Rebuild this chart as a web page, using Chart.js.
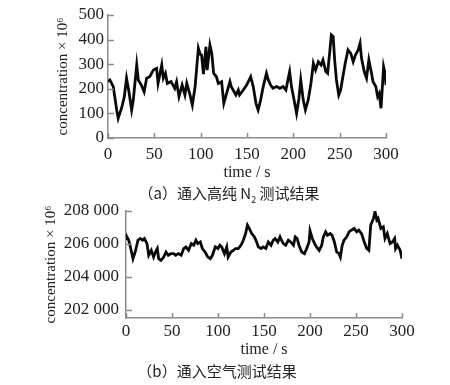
<!DOCTYPE html>
<html>
<head>
<meta charset="utf-8">
<script src="https://cdn.jsdelivr.net/npm/chart.js@4"></script>
<style>
  body { margin: 0; background: #fff; }
  #wrap { position: relative; width: 450px; height: 385px; }
  canvas { position: absolute; left: 0; }
  .cap { position: absolute; left: 0; width: 450px; text-align: center;
         font-family: "Noto Sans CJK SC", sans-serif; font-size: 15px; color: #222; }
</style>
</head>
<body>
<div id="wrap">
  <canvas id="chartA" width="450" height="185" style="top:0"></canvas>
  <div class="cap" style="top:182px; padding-left:4px">（a）通入高纯 N<sub style="font-size:9px">2</sub> 测试结果</div>
  <canvas id="chartB" width="450" height="175" style="top:190px"></canvas>
  <div class="cap" style="top:360px; left:-8px">（b）通入空气测试结果</div>
</div>
<script>
// (a) high purity N2
const timeA = [0,2,5.7,9.4,11,14.7,17.6,20,22.6,25.5,27.3,31,32.7,36,39,41.7,45,49,52.5,54,58,59.7,62,64,68,72,74,76.6,80,83,85,88.5,91,94,97.5,99.5,101,103,105.7,107,110,112,114,117,119,122.6,125,128,131.6,133,135,138,140.6,142,146,149.6,154,156.7,159.7,162,164.7,167.5,171,173,175.5,178,182,185.5,189,192,194.5,196,198,201,203.5,206,208,210.7,213,216,219,221.6,224,227,230,232,235,237,239.5,241,243,244.6,246.5,249,251,253.8,256,259,262,264.6,267,270,272,273.6,276.5,279,281.5,284,286,289,291,292.7,294.6,296,297.4,299,300];
const concA = [230,236,209,114,80,122,168,243,188,114,154,297,236,215,188,243,249,276,283,222,297,243,263,222,229,202,229,168,215,175,222,175,134,209,365,340,337,260,371,276,378,344,263,249,222,229,141,181,229,209,195,175,195,175,195,215,249,209,141,114,154,209,263,236,215,202,209,202,209,195,243,270,209,150,100,160,236,154,114,154,222,304,276,310,297,317,270,263,358,419,412,317,236,175,195,256,304,358,344,310,337,358,385,324,270,243,317,270,229,209,168,181,121,202,290,263,215];
const xTicksA = [0,50,100,150,200,250,300];
const yTicksA = [0,100,200,300,400,500];

// (b) air
const timeB = [0,1,3,6,7.6,10,13,15.5,18,20,22.8,24.7,27.5,30,32,34,35.5,38,41,43.5,46,49,52,54,57,60,62.7,65,68,71,73.6,76,78,80.8,83,86,89,91.6,94,97,100,102,104,107,109.5,111,114,116.6,119,122,125,127.5,130,132,134,136.6,139.5,142,143.8,146.7,149,152,154.7,157.6,160,162,165,167.4,169,171,173.6,176.5,179,182,184,186,188,191,194,196.4,199,200,202.5,205,207,210,212.7,214.5,217,219,222,224,226.5,229,231.5,233,235,237,240,242.4,245,248,250.8,253,256,259,261.6,264,266,269,270.7,272.6,274,277,279.7,281.5,284,287,289.6,292,293,295,298,300];
const concB = [206330,206430,206225,205510,205100,205510,206225,206330,206225,206330,206020,205310,205610,205200,205510,205720,205100,205000,205200,205510,205310,205410,205410,205310,205410,205310,205720,205820,205610,206020,205920,206225,206020,206120,205720,205510,205200,205100,205310,205820,205720,205920,205820,205410,205820,205200,205510,205610,205720,205720,205920,206225,206630,207140,206940,206630,206430,206120,205820,205720,205820,205720,206120,205920,206225,206330,206120,206430,206225,206020,205920,206225,206120,205920,206430,206330,205920,205510,205410,205720,206120,206800,206330,206020,205820,205610,205920,206430,206735,206530,206630,206530,206120,205510,205410,205200,205920,206225,206430,206735,206840,206940,206735,206840,206630,206120,205720,205610,207140,207550,207960,207450,207550,206940,207040,206330,206630,206020,206120,206330,205720,205920,205610,205100];
const xTicksB = [0,50,100,150,200,250,300];
const yTicksB = [202000,204000,206000,208000];

const axisColor = '#8c8c8c';
const textColor = '#222';
const serif = 'Liberation Serif';

// short tick marks drawn inward from the axes
const innerTicks = {
  id: 'innerTicks',
  afterDraw(chart) {
    const { ctx, chartArea } = chart;
    const xs = chart.scales.x, ys = chart.scales.y;
    ctx.save();
    ctx.strokeStyle = axisColor;
    ctx.lineWidth = 1.5;
    ctx.beginPath();
    xs.ticks.forEach(t => {
      const px = Math.round(xs.getPixelForValue(t.value)) + 0.5;
      ctx.moveTo(px, chartArea.bottom);
      ctx.lineTo(px, chartArea.bottom - 5);
    });
    ys.ticks.forEach(t => {
      const py = Math.round(ys.getPixelForValue(t.value)) + 0.5;
      ctx.moveTo(chartArea.left, py);
      ctx.lineTo(chartArea.left + 6, py);
    });
    ctx.stroke();
    ctx.restore();
  }
};

function makeChart(id, xs, ys, xTicks, yTicks, opt) {
  const pts = xs.map((x, i) => ({ x, y: ys[i] }));
  return new Chart(document.getElementById(id), {
    type: 'line',
    data: {
      datasets: [{
        data: pts,
        borderColor: '#0a0a0a',
        borderWidth: 2.8,
        pointRadius: 0,
        tension: 0,
        fill: false,
      }],
    },
    options: {
      responsive: false,
      animation: false,
      layout: { padding: opt.pad },
      plugins: { legend: { display: false }, tooltip: { enabled: false } },
      scales: {
        x: {
          type: 'linear',
          min: 0, max: 300,
          afterBuildTicks: s => { s.ticks = xTicks.map(v => ({ value: v })); },
          afterFit: s => { s.height = opt.xh; },
          grid: { display: false, drawTicks: false },
          border: { color: axisColor, width: 1.5 },
          ticks: { color: textColor, padding: opt.xpad, maxRotation: 0, font: { family: serif, size: 17 } },
          title: { display: true, text: 'time / s', color: textColor, padding: 0, font: { family: serif, size: 16 } },
        },
        y: {
          min: opt.ymin, max: opt.ymax,
          afterBuildTicks: s => { s.ticks = yTicks.map(v => ({ value: v })); },
          afterFit: s => { s.width = opt.yw; },
          grid: { display: false, drawTicks: false },
          border: { color: axisColor, width: 1.5 },
          ticks: {
            color: textColor, padding: opt.ypad, font: { family: serif, size: 17 },
            callback: v => String(v).replace(/\B(?=(\d{3})+(?!\d))/g, ' '),
          },
          title: { display: true, text: 'concentration × 10⁶', color: textColor, padding: 0, font: { family: serif, size: 15 } },
        },
      },
    },
    plugins: [innerTicks],
  });
}

makeChart('chartA', timeA, concA, xTicksA, yTicksA, {
  pad: { left: 54, right: 64, top: 15, bottom: 3 },
  xh: 44, yw: 54, xpad: 6, ypad: 4, ymin: 0, ymax: 500,
});

makeChart('chartB', timeB, concB, xTicksB, yTicksB, {
  pad: { left: 42, right: 48, top: 21, bottom: 6 },
  xh: 41, yw: 84, xpad: 3, ypad: 7, ymin: 201500, ymax: 208000,
});
</script>
</body>
</html>
